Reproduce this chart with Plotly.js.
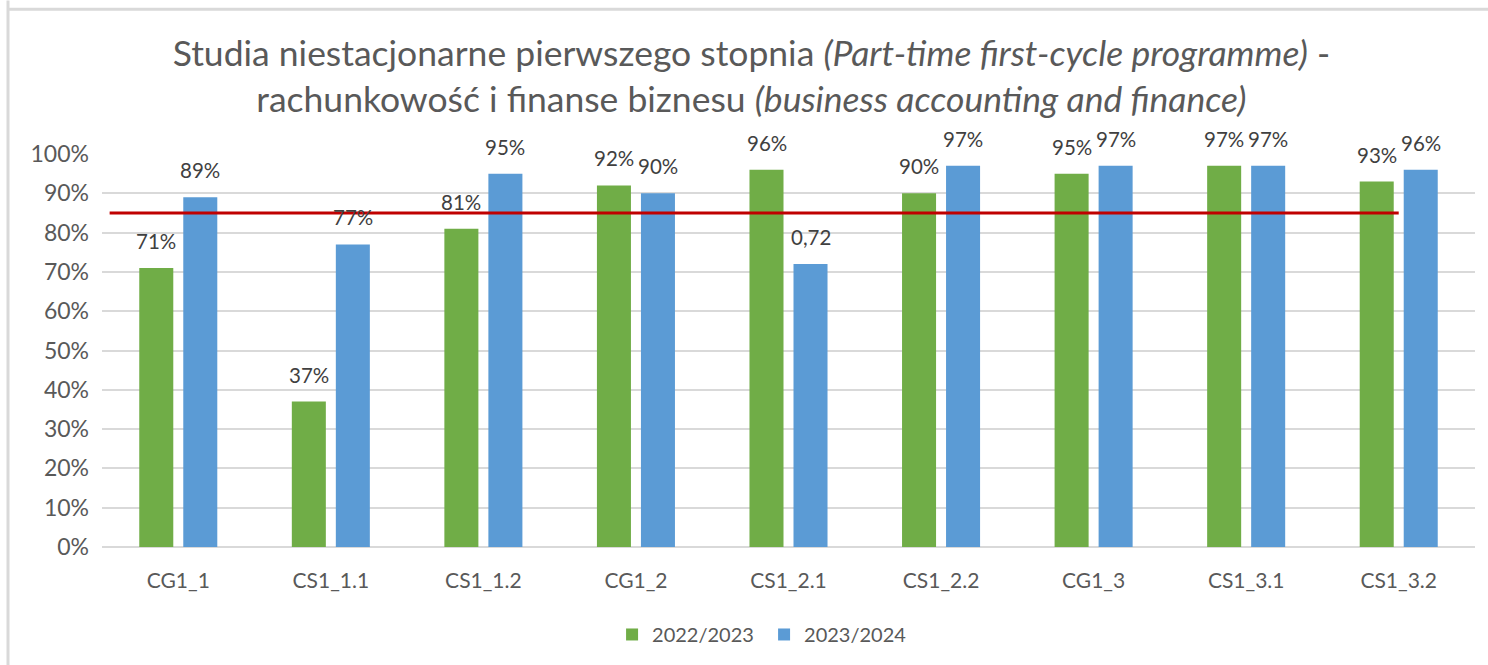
<!DOCTYPE html>
<html>
<head>
<meta charset="utf-8">
<script src="https://cdn.plot.ly/plotly-3.0.1.min.js"></script>
<style>html,body{margin:0;padding:0;background:#fff;}#chart{width:1488px;height:665px;}</style>
</head>
<body>
<div id="chart"></div>
<script>
var categories = ["CG1_1", "CS1_1.1", "CS1_1.2", "CG1_2", "CS1_2.1", "CS1_2.2", "CG1_3", "CS1_3.1", "CS1_3.2"];
var seriesNames = ["2022/2023", "2023/2024"];
var values2022 = [71, 37, 81, 92, 96, 90, 95, 97, 93];
var values2023 = [89, 77, 95, 90, 72, 97, 97, 97, 96];
var labels2022 = ["71%", "37%", "81%", "92%", "96%", "90%", "95%", "97%", "93%"];
var labels2023 = ["89%", "77%", "95%", "90%", "0,72", "97%", "97%", "97%", "96%"];
var targetLevel = 85;
var tickValues = [0, 10, 20, 30, 40, 50, 60, 70, 80, 90, 100];
var tickLabels = ["0%", "10%", "20%", "30%", "40%", "50%", "60%", "70%", "80%", "90%", "100%"];

var FONT = "Lato, 'Noto Sans', sans-serif";
var GREEN = "#70AD47", BLUE = "#5B9BD5";

var traces = [
  {type: "bar", name: seriesNames[0], x: categories, y: values2022, marker: {color: GREEN}, hoverinfo: "x+y"},
  {type: "bar", name: seriesNames[1], x: categories, y: values2023, marker: {color: BLUE}, hoverinfo: "x+y"}
];

var annotations = [];
categories.forEach(function(c, i) {
  annotations.push({x: c, y: values2022[i], xref: "x", yref: "y", text: labels2022[i], showarrow: false,
    xshift: -22, yshift: 13, yanchor: "bottom", font: {family: FONT, size: 20.5, color: "#404040"}});
  annotations.push({x: c, y: values2023[i], xref: "x", yref: "y", text: labels2023[i], showarrow: false,
    xshift: 22, yshift: 13, yanchor: "bottom", font: {family: FONT, size: 20.5, color: "#404040"}});
});

var plotW = 1373;
function px2paperX(p) { return (p - 102) / plotW; }
var plotH = 394;
function px2paperY(p) { return (548 - p) / plotH; }

var shapes = [
  {type: "line", xref: "x", yref: "y", x0: -0.45, x1: 8.0, y0: targetLevel, y1: targetLevel,
   line: {color: "#C00000", width: 3}},
  {type: "line", xref: "paper", yref: "paper", x0: px2paperX(8), x1: px2paperX(1490), y0: px2paperY(9), y1: px2paperY(9),
   line: {color: "#D9D9D9", width: 3}},
  {type: "line", xref: "paper", yref: "paper", x0: px2paperX(8), x1: px2paperX(8), y0: px2paperY(0), y1: px2paperY(668),
   line: {color: "#D9D9D9", width: 3}}
];

var layout = {
  width: 1488, height: 665,
  paper_bgcolor: "#fff", plot_bgcolor: "#fff",
  margin: {l: 102, r: 13, t: 154, b: 117},
  title: {
    text: "Studia niestacjonarne pierwszego stopnia <i>(Part-time first-cycle programme)</i> -<br>rachunkowość i finanse biznesu <i>(business accounting and finance)</i>",
    font: {family: FONT, size: 35.5, color: "#595959"},
    x: 0.505, xanchor: "center", yref: "container", y: 1 - 66 / 665, yanchor: "middle"
  },
  barmode: "group", bargap: 0.423, bargroupgap: 0.227,
  xaxis: {type: "category", tickfont: {family: FONT, size: 21, color: "#595959"},
    showline: false, ticks: "", showgrid: false, automargin: false, ticklabelstandoff: 19},
  yaxis: {range: [0, 100], tickvals: tickValues, ticktext: tickLabels,
    tickfont: {family: FONT, size: 23, color: "#595959"}, gridcolor: "#D9D9D9", gridwidth: 1.5,
    zeroline: true, zerolinecolor: "#D9D9D9", zerolinewidth: 2, showline: false, ticks: "", ticklen: 0,
    automargin: false, ticklabelstandoff: 12},
  legend: {orientation: "h", x: 0.3715, xanchor: "left", y: -0.17, yanchor: "top",
    font: {family: FONT, size: 20, color: "#595959"}, itemwidth: 30, traceorder: "normal",
    entrywidth: 107, entrywidthmode: "pixels"},
  annotations: annotations,
  shapes: shapes,
  showlegend: true
};

Plotly.newPlot("chart", traces, layout, {displayModeBar: false, responsive: false});
</script>
</body>
</html>
